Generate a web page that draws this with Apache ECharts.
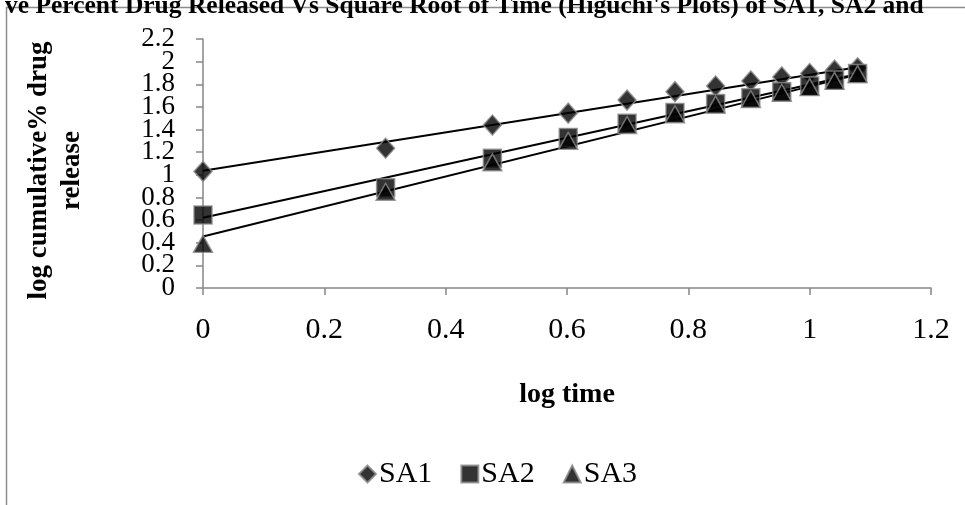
<!DOCTYPE html>
<html><head><meta charset="utf-8">
<script src="https://cdn.jsdelivr.net/npm/echarts@6/dist/echarts.min.js"></script>
<style>html,body{margin:0;padding:0;background:#fff;}#c{width:965px;height:505px;}</style>
</head><body><div id="c"></div>
<script>
const logTime = [0, 0.301, 0.477, 0.602, 0.699, 0.778, 0.845, 0.903, 0.954, 1.0, 1.041, 1.079];
const sa1 = [1.03, 1.235, 1.44, 1.545, 1.66, 1.735, 1.785, 1.83, 1.865, 1.895, 1.925, 1.945];
const sa2 = [0.645, 0.885, 1.146, 1.33, 1.455, 1.55, 1.63, 1.68, 1.735, 1.785, 1.837, 1.895];
const sa3 = [0.39, 0.85, 1.11, 1.30, 1.44, 1.535, 1.62, 1.67, 1.725, 1.775, 1.83, 1.89];
const trendX = [0, 1.079];
const trend1 = [1.035, 1.95];
const trend2 = [0.62, 1.89];
const trend3 = [0.455, 1.885];
const seriesNames = ['SA1', 'SA2', 'SA3'];
const titleText = "ve Percent Drug Released Vs Square Root of Time (Higuchi's Plots) of SA1, SA2 and";

const F = 'Liberation Serif, Times New Roman, serif';
const pts = ys => logTime.map((x, i) => [x, ys[i]]);
const tr = ys => trendX.map((x, i) => [x, ys[i]]);
const mk = {color: '#000', borderColor: '#8a8a8a', borderWidth: 1.5};
// y tick labels split over two overlaid axes so that crowded labels are all kept
const fmtY = even => v => {
  const k = Math.round(v / 0.2);
  return (k % 2 === 0) === even ? String(+v.toFixed(1)) : '';
};
const yLabel = even => ({fontFamily: F, fontSize: 27, lineHeight: 10, color: '#000', margin: 28,
  showMinLabel: true, showMaxLabel: true, hideOverlap: false, formatter: fmtY(even)});
const chart = echarts.init(document.getElementById('c'));
chart.setOption({
  backgroundColor: '#fff',
  animation: false,
  title: {text: titleText, left: 0, top: -12, textStyle: {fontFamily: F, fontWeight: 'bold', fontSize: 25.5, color: '#000'}},
  graphic: [{type: 'rect', shape: {x: 6.5, y: 7.5, width: 1200, height: 800}, style: {fill: 'none', stroke: '#8c8c8c', lineWidth: 1.5}, z: -1}],
  grid: {left: 203, right: 34, top: 39, bottom: 217},
  legend: {
    data: seriesNames, bottom: 11, left: 353, itemWidth: 17, itemHeight: 17, itemGap: 28,
    textStyle: {fontFamily: F, fontSize: 30, color: '#000', padding: [0,0,0,-2]}
  },
  xAxis: {
    type: 'value', min: 0, max: 1.2, interval: 0.2,
    name: 'log time', nameLocation: 'middle', nameGap: 93,
    nameTextStyle: {fontFamily: F, fontWeight: 'bold', fontSize: 28, color: '#000'},
    axisLine: {lineStyle: {color: '#868686', width: 1.5}},
    axisTick: {length: 7, lineStyle: {color: '#868686', width: 1.5}},
    axisLabel: {fontFamily: F, fontSize: 30, color: '#000', margin: 27},
    splitLine: {show: false}
  },
  yAxis: [{
    type: 'value', min: 0, max: 2.2, interval: 0.2,
    name: 'log cumulative% drug\nrelease', nameLocation: 'middle', nameGap: 114, nameRotate: 90,
    nameTextStyle: {fontFamily: F, fontWeight: 'bold', fontSize: 27, color: '#000', lineHeight: 33, padding: [0, 14, 0, 0]},
    axisLine: {lineStyle: {color: '#868686', width: 1.5}},
    axisTick: {length: 7, lineStyle: {color: '#868686', width: 1.5}},
    axisLabel: yLabel(true),
    splitLine: {show: false}
  }, {
    type: 'value', min: 0, max: 2.2, interval: 0.2, position: 'left', offset: 0,
    axisLine: {show: false}, axisTick: {show: false},
    axisLabel: yLabel(false),
    splitLine: {show: false}
  }],
  series: [
    {name: 'trend1', type: 'line', data: tr(trend1), showSymbol: false, lineStyle: {color: '#000', width: 2}, z: 2, silent: true},
    {name: 'trend2', type: 'line', data: tr(trend2), showSymbol: false, lineStyle: {color: '#000', width: 2}, z: 2, silent: true},
    {name: 'trend3', type: 'line', data: tr(trend3), showSymbol: false, lineStyle: {color: '#000', width: 2}, z: 2, silent: true},
    {name: 'SA1', type: 'scatter', data: pts(sa1), symbol: 'diamond', symbolSize: [18, 20], itemStyle: mk, z: 3},
    {name: 'SA2', type: 'scatter', data: pts(sa2), symbol: 'rect', symbolSize: 18, itemStyle: mk, z: 4},
    {name: 'SA3', type: 'scatter', data: pts(sa3), symbol: 'triangle', symbolSize: [19, 17], itemStyle: mk, z: 5}
  ]
});
</script></body></html>
